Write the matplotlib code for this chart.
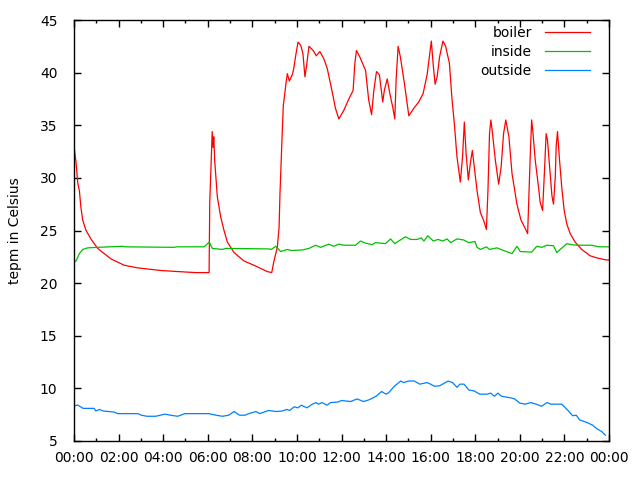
import matplotlib
matplotlib.use("Agg")
import matplotlib.pyplot as plt
from matplotlib.ticker import FuncFormatter, MultipleLocator

# hours since midnight -> temperature in Celsius
boiler_hours = [
    0, 0.09, 0.17, 0.24, 0.31, 0.39, 0.54, 0.76, 1.06, 1.36,
    1.66, 2.25, 2.85, 3.9, 4.64, 5.46, 6.06, 6.09, 6.2, 6.24,
    6.27, 6.31, 6.43, 6.58, 6.73, 6.88, 7.18, 7.63, 8.07, 8.67,
    8.87, 8.97, 9.12, 9.2, 9.24, 9.3, 9.35, 9.39, 9.45, 9.51,
    9.57, 9.66, 9.79, 9.85, 9.96, 10.05, 10.17, 10.27, 10.36, 10.43,
    10.54, 10.73, 10.87, 11.03, 11.21, 11.36, 11.58, 11.73, 11.88, 12.1,
    12.33, 12.52, 12.6, 12.67, 12.82, 13.08, 13.22, 13.35, 13.45, 13.57,
    13.7, 13.85, 13.92, 14.05, 14.17, 14.3, 14.39, 14.45, 14.54, 14.64,
    14.82, 15.02, 15.24, 15.46, 15.66, 15.84, 15.96, 16.03, 16.12, 16.2,
    16.29, 16.4, 16.55, 16.67, 16.84, 16.96, 17.06, 17.18, 17.33, 17.43,
    17.51, 17.59, 17.69, 17.78, 17.87, 17.96, 18.08, 18.23, 18.37, 18.5,
    18.57, 18.64, 18.7, 18.76, 18.9, 19.05, 19.16, 19.27, 19.37, 19.51,
    19.65, 19.87, 20.05, 20.24, 20.35, 20.41, 20.47, 20.53, 20.58, 20.69,
    20.84, 20.91, 21.02, 21.1, 21.18, 21.24, 21.36, 21.44, 21.51, 21.59,
    21.63, 21.69, 21.78, 21.88, 21.99, 22.11, 22.26, 22.48, 22.78, 23.15,
    23.45, 23.87, 24.0,
]
boiler_temp = [
    33.0, 31.5, 29.5, 28.8, 27.2, 26.0, 25.0, 24.2, 23.3, 22.8,
    22.3, 21.7, 21.45, 21.2, 21.1, 21.0, 21.0, 27.7, 34.4, 32.9,
    33.9, 31.7, 28.2, 26.3, 25.0, 23.9, 22.9, 22.1, 21.7, 21.1,
    21.0, 22.1, 23.4, 25.3, 28.5, 32.0, 34.8, 36.9, 37.9, 39.0,
    39.9, 39.2, 39.8, 40.3, 41.8, 42.9, 42.6, 41.8, 39.6, 40.6,
    42.5, 42.1, 41.6, 42.0, 41.3, 40.4, 38.2, 36.6, 35.6, 36.4,
    37.5, 38.3, 40.9, 42.1, 41.5, 40.2, 37.4, 36.0, 38.3, 40.1,
    39.8, 37.2, 38.3, 39.4, 38.0, 36.7, 35.6, 39.3, 42.5, 41.5,
    39.0, 35.9, 36.6, 37.2, 38.0, 39.8, 41.8, 43.0, 40.6, 38.9,
    39.6, 41.5, 43.0, 42.5, 40.9, 37.4, 35.2, 32.0, 29.6, 32.0,
    35.3, 32.3, 29.8, 31.4, 32.6, 31.0, 28.8, 26.7, 26.0, 25.1,
    28.8, 34.2, 35.5, 34.5, 31.7, 29.4, 31.0, 34.2, 35.5, 33.9,
    30.4, 27.5, 26.0, 25.2, 24.7, 28.5, 32.3, 35.5, 34.5, 31.7,
    29.1, 27.7, 26.9, 30.4, 34.2, 33.6, 30.4, 28.3, 27.5, 30.1,
    33.0, 34.4, 31.7, 29.1, 26.9, 25.6, 24.7, 23.9, 23.2, 22.6,
    22.4, 22.2, 22.2,
]

inside_hours = [
    0, 0.09, 0.24, 0.39, 0.61, 1.06, 2.18, 2.3, 4.49, 4.6,
    5.84, 6.07, 6.2, 6.66, 6.8, 8.75, 8.85, 9.05, 9.27, 9.57,
    9.75, 10.24, 10.54, 10.84, 11.06, 11.43, 11.65, 11.88, 12.1, 12.63,
    12.85, 13.08, 13.37, 13.52, 13.97, 14.2, 14.39, 14.64, 14.87, 15.1,
    15.4, 15.57, 15.7, 15.87, 16.12, 16.33, 16.55, 16.73, 16.9, 17.18,
    17.48, 17.7, 17.99, 18.08, 18.23, 18.5, 18.64, 18.97, 19.27, 19.65,
    19.87, 20.02, 20.53, 20.76, 20.99, 21.21, 21.51, 21.66, 21.81, 22.11,
    22.33, 22.58, 23.23, 23.53, 24.0,
]
inside_temp = [
    22.0, 22.1, 22.8, 23.2, 23.35, 23.4, 23.5, 23.45, 23.4, 23.45,
    23.45, 23.9, 23.3, 23.2, 23.3, 23.25, 23.2, 23.5, 23.0, 23.2,
    23.1, 23.15, 23.3, 23.6, 23.4, 23.7, 23.5, 23.7, 23.6, 23.6,
    24.0, 23.8, 23.65, 23.85, 23.75, 24.2, 23.75, 24.1, 24.4, 24.15,
    24.15, 24.3, 24.0, 24.5, 24.0, 24.15, 24.0, 24.2, 23.85, 24.2,
    24.1, 23.85, 23.95, 23.4, 23.2, 23.45, 23.2, 23.35, 23.1, 22.8,
    23.5, 23.0, 22.95, 23.5, 23.4, 23.6, 23.55, 22.9, 23.2, 23.75,
    23.65, 23.6, 23.6, 23.45, 23.45,
]

outside_hours = [
    0, 0.16, 0.41, 0.9, 0.98, 1.14, 1.31, 1.8, 1.96, 2.86,
    3.02, 3.27, 3.67, 4.08, 4.33, 4.65, 4.98, 6.04, 6.37, 6.66,
    6.94, 7.18, 7.43, 7.67, 7.84, 8.16, 8.33, 8.73, 9.06, 9.34,
    9.55, 9.67, 9.88, 10.04, 10.2, 10.45, 10.69, 10.86, 10.97, 11.13,
    11.35, 11.51, 11.84, 12.0, 12.41, 12.7, 12.98, 13.22, 13.55, 13.8,
    14.0, 14.12, 14.37, 14.66, 14.78, 15.02, 15.27, 15.51, 15.84, 16.0,
    16.16, 16.41, 16.78, 16.98, 17.18, 17.31, 17.5, 17.71, 17.96, 18.2,
    18.53, 18.69, 18.86, 19.02, 19.18, 19.59, 19.76, 20.0, 20.24, 20.49,
    20.73, 20.98, 21.22, 21.39, 21.88, 22.14, 22.37, 22.53, 22.69, 23.02,
    23.27, 23.43, 23.67, 23.84,
]
outside_temp = [
    8.32, 8.42, 8.1, 8.1, 7.85, 8.0, 7.85, 7.75, 7.6, 7.6,
    7.45, 7.35, 7.35, 7.55, 7.45, 7.35, 7.6, 7.6, 7.45, 7.35,
    7.45, 7.8, 7.45, 7.45, 7.6, 7.8, 7.6, 7.9, 7.8, 7.85,
    8.0, 7.9, 8.25, 8.15, 8.4, 8.15, 8.5, 8.65, 8.5, 8.65,
    8.4, 8.65, 8.7, 8.85, 8.75, 9.0, 8.75, 8.9, 9.25, 9.7,
    9.45, 9.6, 10.2, 10.7, 10.55, 10.7, 10.7, 10.4, 10.55, 10.4,
    10.2, 10.25, 10.7, 10.55, 10.1, 10.4, 10.4, 9.85, 9.75, 9.45,
    9.45, 9.55, 9.25, 9.55, 9.25, 9.1, 9.0, 8.6, 8.5, 8.65,
    8.5, 8.3, 8.65, 8.5, 8.5, 7.95, 7.4, 7.45, 7.0, 6.75,
    6.5, 6.2, 5.9, 5.55,
]

series_labels = ["boiler", "inside", "outside"]
series_colors = ["#ff0000", "#00c000", "#0080ff"]

plt.rcParams["font.family"] = "DejaVu Sans"
plt.rcParams["font.size"] = 10

fig = plt.figure(figsize=(6.4, 4.8), dpi=100)
ax = fig.add_axes([74 / 640, 39 / 480, 535 / 640, 421 / 480])

series = [
    (boiler_hours, boiler_temp),
    (inside_hours, inside_temp),
    (outside_hours, outside_temp),
]
for (hours, temps), label, color in zip(series, series_labels, series_colors):
    ax.plot(hours, temps, color=color, linewidth=0.9, label=label)

ax.set_xlim(0, 24)
ax.set_ylim(5, 45)
ax.xaxis.set_major_locator(MultipleLocator(2))
ax.xaxis.set_minor_locator(MultipleLocator(1))
ax.xaxis.set_major_formatter(FuncFormatter(lambda v, pos: f"{int(v) % 24:02d}:00" if v < 24 else "00:00"))
ax.yaxis.set_major_locator(MultipleLocator(5))

ax.tick_params(which="both", direction="in", top=True, right=True, width=1, colors="black")
ax.tick_params(which="major", length=5, pad=7)
ax.tick_params(axis="y", which="major", pad=12)
ax.tick_params(which="minor", length=2.5)
for spine in ax.spines.values():
    spine.set_linewidth(1)

ax.set_ylabel("tepm in Celsius", va="center")
ax.yaxis.set_label_coords(-59 / 535, 0.5)

ax.legend(
    loc="upper right",
    bbox_to_anchor=(590 / 640, 454 / 480),
    bbox_transform=fig.transFigure,
    frameon=False,
    markerfirst=False,
    handlelength=3.25,
    handletextpad=0.95,
    labelspacing=0.36,
    borderpad=0,
    borderaxespad=0,
    fontsize=10,
)

fig.savefig("out.png", dpi=100)
